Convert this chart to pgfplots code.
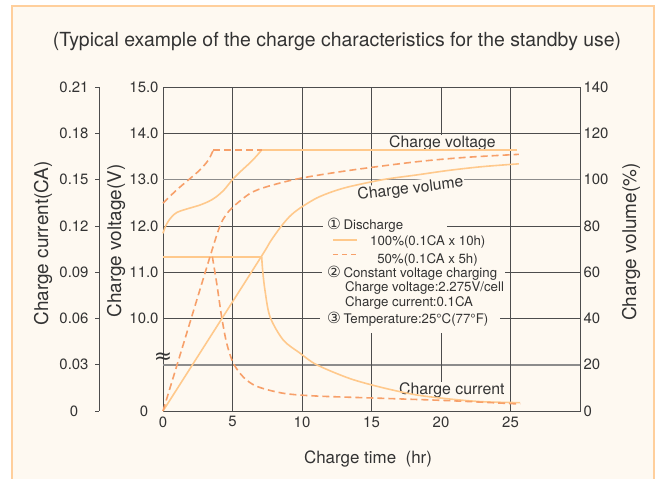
\documentclass[border=0pt]{standalone}
\usepackage{fontspec}
\setmainfont{TeX Gyre Heros}
\newfontfamily\dv{DejaVu Sans}
\usepackage{pgfplots}
\pgfplotsset{compat=1.18}
\definecolor{bgc}{HTML}{FEF9F1}
\definecolor{frameor}{HTML}{FFCF9C}
\definecolor{lorange}{HTML}{FFC98C}
\definecolor{dorange}{HTML}{F7A06A}
\definecolor{gridc}{HTML}{4D4D4D}
\definecolor{gridl}{HTML}{8C8C8C}
\definecolor{txt}{HTML}{333333}
\newcommand\fs[1]{\fontsize{#1}{#1}\selectfont}
\newcommand\cnum[1]{{\dv\fontsize{15.5}{15.5}\selectfont #1}\hspace{2.5bp}}
\tikzset{
  solidc/.style={lorange, line width=1.6bp},
  dashc/.style={dorange, line width=1.6bp, dash pattern=on 7bp off 4bp},
}
\pgfplotsset{
  over/.style={at={(163bp,68bp)}, anchor=south west, scale only axis,
    width=417bp, height=324bp, xmin=0, xmax=30, clip=false},
}
\begin{document}
\begin{tikzpicture}
\path[use as bounding box] (0,0) rectangle (660bp,479bp);
\fill[white] (0,0) rectangle (660bp,479bp);
\fill[bgc] (12bp,-5bp) rectangle (654bp,473bp);
\draw[frameor, line width=2.5bp] (12bp,-5bp) -- (12bp,473bp) -- (654bp,473bp) -- (654bp,-5bp);

% voltage axis (with grid)
\begin{axis}[over,
  ymin=8, ymax=15,
  xtick={0,5,10,15,20,25}, xticklabels={0,5,10,15,20,25},
  ytick={8,...,15}, yticklabels={0,,10.0,11.0,12.0,13.0,14.0,15.0},
  major tick length=0pt,
  ymajorgrids, major grid style={gridc, line width=0.7bp},
  extra y ticks={9,13}, extra y tick labels={,},
  extra y tick style={grid=major, major grid style={gridl, line width=1.6bp}},
  axis line style={gridc, line width=0.8bp},
  tick label style={font=\fs{15}, text=txt},
  yticklabel style={anchor=center, xshift=-19bp},
  xticklabel style={yshift=-2bp},
]
\draw[gridc, line width=0.7bp] (axis cs:5,8) -- (axis cs:5,15);
\draw[gridc, line width=0.7bp] (axis cs:10,8) -- (axis cs:10,15);
\draw[gridc, line width=0.7bp] (axis cs:25,8) -- (axis cs:25,15);
\draw[gridc, line width=0.7bp] (axis cs:15,8) -- (axis cs:15,9.685);
\draw[gridc, line width=0.7bp] (axis cs:15,12.56) -- (axis cs:15,15);
\draw[gridc, line width=0.7bp] (axis cs:20,8.63) -- (axis cs:20,9.685);
\draw[gridc, line width=0.7bp] (axis cs:20,13.96) -- (axis cs:20,15);
% gaps in the horizontal grid around the legend
\fill[bgc] (axis cs:11.5,11.9) rectangle (axis cs:20.4,12.1);
\fill[bgc] (axis cs:11.44,10.9) rectangle (axis cs:24.6,11.1);
\fill[bgc] (axis cs:11.3,9.9) rectangle (axis cs:24.24,10.1);
% legend
\begin{scope}[every node/.style={anchor=base west, inner sep=0pt, text=txt, font=\fs{13.3}}]
\node at (axis cs:11.8,11.93) {\cnum{①}Discharge};
\node at (axis cs:14.89,11.565) {100\%(0.1CA x 10h)};
\node at (axis cs:15.40,11.197) {50\%(0.1CA x 5h)};
\node at (axis cs:11.8,10.895) {\cnum{②}Constant voltage charging};
\node at (axis cs:13.09,10.571) {Charge voltage:2.275V/cell};
\node at (axis cs:13.09,10.268) {Charge current:0.1CA};
\node at (axis cs:11.8,9.901) {\cnum{③}Temperature:25°C(77°F)};
\end{scope}
\draw[solidc] (axis cs:12.23,11.694) -- (axis cs:13.96,11.694);
\draw[dorange, line width=1.6bp, dash pattern=on 5bp off 4bp] (axis cs:12.23,11.381) -- (axis cs:13.96,11.381);
% curve labels
\node[anchor=base west, inner sep=0pt, text=txt, font=\fs{15.8}] at (axis cs:16.26,13.703) {Charge voltage};
\node[anchor=base west, inner sep=1bp, fill=bgc, text=txt, font=\fs{15.8}, rotate=7] at (axis cs:13.96,12.558) {Charge volume};
\node[anchor=base west, inner sep=1bp, fill=bgc, text=txt, font=\fs{15.9}] at (axis cs:16.9,8.346) {Charge current};
\node[text=txt, font=\fs{22}\dv, inner sep=0pt] at (axis cs:0,9.145) {≈};
% charge voltage
\addplot[solidc, smooth] coordinates {(0,11.84) (0.15,11.97) (0.3,12.06) (0.5,12.15) (0.7,12.22) (1.0,12.29) (1.44,12.34) (2.0,12.39) (2.66,12.45) (3.3,12.53) (3.8,12.62) (4.4,12.78) (5.0,13.0) (5.6,13.18) (6.25,13.36) (6.7,13.5) (7.1,13.64)};
\addplot[solidc] coordinates {(7.1,13.64) (25.5,13.64)};
\addplot[dashc, smooth] coordinates {(0,12.49) (0.96,12.77) (1.82,12.99) (2.66,13.21) (3.26,13.42) (3.62,13.64)};
\addplot[dashc] coordinates {(3.62,13.64) (7.1,13.64)};
\end{axis}

% charge current data
\begin{axis}[over, ymin=0, ymax=0.21, hide axis]
\addplot[dashc] coordinates {(0,0.1) (3.55,0.1)};
\addplot[solidc] coordinates {(0,0.1) (7.1,0.1)};
\addplot[solidc, smooth] coordinates {(7.1,0.1) (7.17,0.091) (7.34,0.078) (7.7,0.061) (8.65,0.046) (9.84,0.0376) (11.05,0.030) (13.45,0.021) (15.85,0.015) (18.25,0.0104) (20.6,0.0078) (23.0,0.006) (25.7,0.0054)};
\addplot[dashc, smooth] coordinates {(3.55,0.1) (3.86,0.083) (4.22,0.061) (4.58,0.044) (5.06,0.031) (5.78,0.022) (6.74,0.016) (8.65,0.0115) (11.05,0.0097) (15.85,0.0082) (20.6,0.0067) (25.7,0.0045)};
\end{axis}

% charge volume data and right axis
\begin{axis}[over, ymin=0, ymax=140, hide x axis, axis y line*=right,
  ytick={0,20,40,60,80,100,120,140}, yticklabels={0,20,40,60,80,100,120,140},
  major tick length=0pt,
  axis line style={gridc, line width=0.8bp},
  tick label style={font=\fs{15}, text=txt},
]
\addplot[solidc, smooth] coordinates {(0,0) (3.5,33) (7.1,67) (7.7,73) (8.4,79) (9.1,84) (9.84,87.6) (11.05,92) (12.2,94.8) (13.45,97) (15.85,100) (18.25,102) (20.6,104) (23,105.6) (25.6,106.8)};
\addplot[dashc, smooth] coordinates {(0,0) (1.75,34.5) (3.5,69) (4.1,80) (4.5,84.5) (5.06,88.3) (6.26,94) (7.46,96.9) (9.84,100.5) (13.45,104) (18.25,107.7) (21.8,109.6) (25.6,110.9)};
\end{axis}

% charge current scale
\begin{axis}[at={(99bp,68bp)}, anchor=south west, scale only axis,
  width=10bp, height=324bp, xmin=0, xmax=1, ymin=0, ymax=0.21,
  hide x axis, axis y line*=left,
  ytick={0,0.03,0.06,0.09,0.12,0.15,0.18,0.21},
  yticklabels={0,0.03,0.06,0.09,0.12,0.15,0.18,0.21},
  tick align=outside, major tick length=4bp,
  tick style={gridc, line width=0.7bp},
  axis line style={gridc, line width=0.8bp},
  tick label style={font=\fs{15}, text=txt},
  yticklabel style={anchor=center, xshift=-21bp},
]
\end{axis}

\node[rotate=90, font=\fs{19}, text=txt] at (43bp,235.5bp) {Charge current(CA)};
\node[rotate=90, font=\fs{19}, text=txt] at (116bp,238bp) {Charge voltage(V)};
\node[rotate=90, font=\fs{19}, text=txt] at (631bp,237bp) {Charge volume(\%)};
\node[font=\fs{17}, text=txt] at (368bp,20bp) {Charge time\ \ (hr)};
\node[font=\fs{19.5}, text=txt] at (337bp,437bp) {(Typical example of the charge characteristics for the standby use)};
\end{tikzpicture}
\end{document}
